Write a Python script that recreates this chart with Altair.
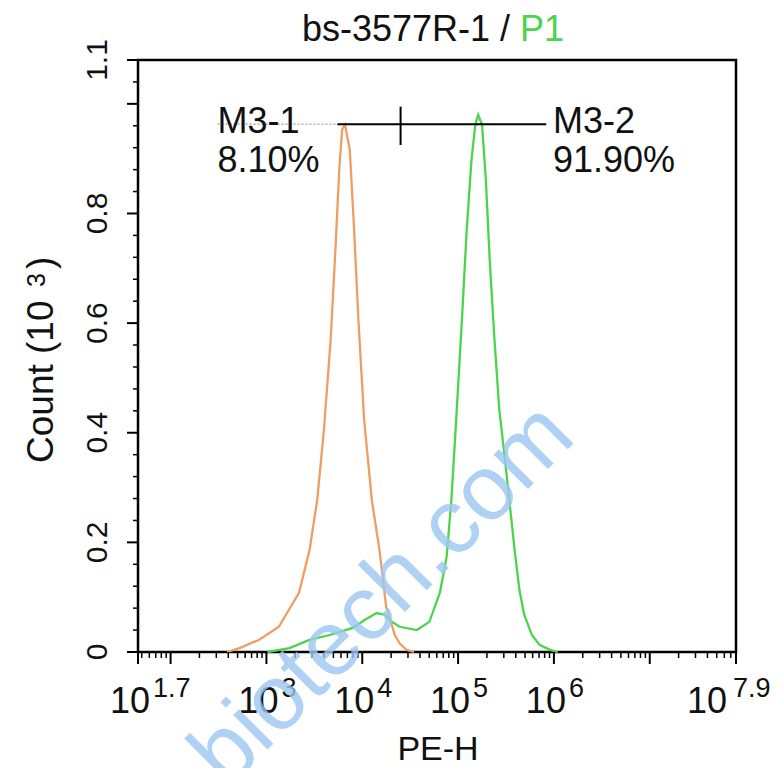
import math
import altair as alt
import pandas as pd

FONT = "Liberation Sans"
ORANGE = "#EE9E62"
GREEN = "#4CD44C"
INK = "#111111"

# ---- axis ranges (log10 of PE-H, count in 10^3) ----
X_LO, X_HI = 1.66, 7.9
Y_MAX = 1.08

# ---- control histogram (orange): log10(PE-H) and count (10^3) ----
ctrl_log = [2.59, 2.72, 2.92, 3.13, 3.34, 3.45, 3.53, 3.60, 3.67, 3.72, 3.76, 3.79,
            3.82, 3.87, 3.91, 3.96, 4.02, 4.10, 4.18, 4.25, 4.34, 4.39, 4.46, 4.54]
ctrl_cnt = [0.0, 0.007, 0.022, 0.046, 0.108, 0.186, 0.277, 0.405, 0.569, 0.734, 0.880, 0.953,
            0.962, 0.916, 0.788, 0.606, 0.423, 0.277, 0.186, 0.082, 0.031, 0.016, 0.004, 0.0]

# ---- antibody-stained histogram (green) ----
samp_log = [3.01, 3.24, 3.45, 3.66, 3.90, 4.02, 4.15, 4.23, 4.31, 4.39, 4.57, 4.70,
            4.81, 4.88, 4.93, 4.98, 5.04, 5.09, 5.14, 5.18, 5.21, 5.25, 5.29, 5.33,
            5.38, 5.43, 5.49, 5.54, 5.59, 5.64, 5.69, 5.77, 5.85, 5.96, 6.04]
samp_cnt = [0.0, 0.007, 0.022, 0.031, 0.044, 0.058, 0.071, 0.068, 0.055, 0.046, 0.040, 0.055,
            0.108, 0.173, 0.277, 0.423, 0.606, 0.770, 0.898, 0.962, 0.980, 0.962, 0.861, 0.715,
            0.569, 0.442, 0.350, 0.268, 0.186, 0.113, 0.068, 0.031, 0.013, 0.004, 0.0]

# ---- gate M3 ----
gate_lo, gate_mid, gate_hi = 3.74, 4.40, 5.92
gate_level = 0.963
divider_lo, divider_hi = 0.925, 0.995
leader_lo = 2.49
gate_names = ["M3-1", "M3-2"]
gate_pcts = ["8.10%", "91.90%"]
gate_label_log = [2.49, 5.99]
name_level = 0.947
pct_level = 0.876

# ---- ticks / labels ----
major_x_exp = [X_LO, 2, 3, 4, 5, 6, 7, X_HI]
label_x_exp = [X_LO, 3, 4, 5, 6]
label_x_txt = ["1.7", "3", "4", "5", "6"]
last_label_exp = [X_HI]
last_label_txt = ["7.9"]
y_major = [0, 0.2, 0.4, 0.6, 0.8, 1.0, Y_MAX]
y_label_val = [0, 0.2, 0.4, 0.6, 0.8, Y_MAX]
y_label_txt = ["0", "0.2", "0.4", "0.6", "0.8", "1.1"]

title_main = "bs-3577R-1 /"
title_gate = "P1"
x_title = "PE-H"
y_title_main = "Count  (10"
y_title_exp = "3"
y_title_close = ")"
watermark = "biotech.com"

minor_x = [k * 10 ** d for d in range(1, 8) for k in range(2, 10)
           if X_LO < math.log10(k * 10 ** d) < X_HI]
minor_y = [round(0.04 * i, 2) for i in range(1, 27) if i % 5 != 0]

xs = alt.Scale(type="log", domain=[10 ** X_LO, 10 ** X_HI], nice=False)
ys = alt.Scale(domain=[0, Y_MAX], nice=False, zero=True)


def X(field):
    return alt.X(field, type="quantitative", scale=xs, axis=None)


def Y(field):
    return alt.Y(field, type="quantitative", scale=ys, axis=None)


hist = pd.concat([
    pd.DataFrame({"pe": [10 ** v for v in ctrl_log], "count": ctrl_cnt, "series": "control"}),
    pd.DataFrame({"pe": [10 ** v for v in samp_log], "count": samp_cnt, "series": "sample"}),
])

lines = alt.Chart(hist).mark_line(strokeWidth=2.3).encode(
    x=X("pe"), y=Y("count"),
    color=alt.Color("series:N", scale=alt.Scale(domain=["control", "sample"],
                                                range=[ORANGE, GREEN]), legend=None),
)

# ticks
major_x_rules = alt.Chart(pd.DataFrame({"v": [10 ** e for e in major_x_exp]})).mark_rule(
    color="black", strokeWidth=2).encode(x=X("v"), y=alt.value(592), y2=alt.value(604))
minor_x_rules = alt.Chart(pd.DataFrame({"v": minor_x})).mark_rule(
    color="black", strokeWidth=1.5).encode(x=X("v"), y=alt.value(592), y2=alt.value(598))
major_y_rules = alt.Chart(pd.DataFrame({"v": y_major})).mark_rule(
    color="black", strokeWidth=2).encode(y=Y("v"), x=alt.value(-11), x2=alt.value(0))
minor_y_rules = alt.Chart(pd.DataFrame({"v": minor_y})).mark_rule(
    color="black", strokeWidth=1.5).encode(y=Y("v"), x=alt.value(-5), x2=alt.value(0))

# x tick labels: "10" with a raised exponent
lab_df = pd.DataFrame({"pe": [10 ** v for v in label_x_exp], "txt": label_x_txt})
tens = alt.Chart(lab_df).mark_text(text="10", align="right", baseline="alphabetic", dx=12,
                                   font=FONT, fontSize=36, color=INK).encode(
    x=X("pe"), y=alt.value(653))
exps = alt.Chart(lab_df).mark_text(align="left", baseline="alphabetic", dx=15,
                                   font=FONT, fontSize=27, color=INK).encode(
    x=X("pe"), y=alt.value(637), text="txt:N")
last_df = pd.DataFrame({"pe": [10 ** v for v in last_label_exp], "txt": last_label_txt})
tens_last = alt.Chart(last_df).mark_text(text="10", align="right", baseline="alphabetic", dx=-9,
                                         font=FONT, fontSize=36, color=INK).encode(
    x=X("pe"), y=alt.value(653))
exps_last = alt.Chart(last_df).mark_text(align="left", baseline="alphabetic", dx=-3,
                                         font=FONT, fontSize=27, color=INK).encode(
    x=X("pe"), y=alt.value(637), text="txt:N")

# y tick labels (rotated)
ylab_df = pd.DataFrame({"v": y_label_val, "txt": y_label_txt})
ylabels = alt.Chart(ylab_df).mark_text(angle=270, align="center", baseline="alphabetic",
                                       font=FONT, fontSize=30, color=INK).encode(
    y=Y("v"), x=alt.value(-31), text="txt:N")

# axis titles
t_df = pd.DataFrame({"a": [title_main], "b": [title_gate], "w": [watermark],
                     "xt": [x_title], "y1": [y_title_main], "y2": [y_title_exp],
                     "y3": [y_title_close]})
xtitle = alt.Chart(t_df).mark_text(align="center", baseline="alphabetic", font=FONT,
                                   fontSize=34, color=INK).encode(
    x=alt.value(300), y=alt.value(700), text="xt:N")
ytitle1 = alt.Chart(t_df).mark_text(angle=270, align="left", baseline="alphabetic", font=FONT,
                                    fontSize=37, color=INK).encode(
    x=alt.value(-85), y=alt.value(403), text="y1:N")
ytitle2 = alt.Chart(t_df).mark_text(angle=270, align="left", baseline="alphabetic", font=FONT,
                                    fontSize=25, color=INK).encode(
    x=alt.value(-93), y=alt.value(227), text="y2:N")
ytitle3 = alt.Chart(t_df).mark_text(angle=270, align="left", baseline="alphabetic", font=FONT,
                                    fontSize=37, color=INK).encode(
    x=alt.value(-85), y=alt.value(209), text="y3:N")

# gate marker
gate_df = pd.DataFrame({"lo": [10 ** gate_lo], "hi": [10 ** gate_hi], "mid": [10 ** gate_mid],
                        "lead": [10 ** leader_lo], "level": [gate_level],
                        "dlo": [divider_lo], "dhi": [divider_hi]})
leader = alt.Chart(gate_df).mark_rule(color="#9a9a9a", strokeWidth=1.2, strokeDash=[2, 2]).encode(
    x=X("lead"), x2="lo:Q", y=Y("level"))
gate_line = alt.Chart(gate_df).mark_rule(color="black", strokeWidth=2).encode(
    x=X("lo"), x2="hi:Q", y=Y("level"))
divider = alt.Chart(gate_df).mark_rule(color="black", strokeWidth=2).encode(
    x=X("mid"), y=Y("dlo"), y2="dhi:Q")

glab_df = pd.DataFrame({"pe": [10 ** v for v in gate_label_log], "name": gate_names,
                        "pct": gate_pcts, "nl": [name_level] * 2, "pl": [pct_level] * 2})
gnames = alt.Chart(glab_df).mark_text(align="left", baseline="alphabetic", font=FONT,
                                      fontSize=36, color=INK).encode(
    x=X("pe"), y=Y("nl"), text="name:N")
gpcts = alt.Chart(glab_df).mark_text(align="left", baseline="alphabetic", font=FONT,
                                     fontSize=36, color=INK).encode(
    x=X("pe"), y=Y("pl"), text="pct:N")

# title: black part + green population name
title_a = alt.Chart(t_df).mark_text(align="right", baseline="alphabetic", font=FONT,
                                    fontSize=36, color=INK).encode(
    x=alt.value(372), y=alt.value(-19), text="a:N")
title_b = alt.Chart(t_df).mark_text(align="left", baseline="alphabetic", font=FONT,
                                    fontSize=36, color=GREEN).encode(
    x=alt.value(382), y=alt.value(-19), text="b:N")

# watermark
wm = alt.Chart(t_df).mark_text(align="left", baseline="alphabetic", font=FONT, angle=315,
                               fontSize=92, color="#9CC7F2", opacity=0.8).encode(
    x=alt.value(89), y=alt.value(730), text="w:N")

chart = alt.layer(
    lines, major_x_rules, minor_x_rules, major_y_rules, minor_y_rules,
    tens, exps, tens_last, exps_last, ylabels, xtitle, ytitle1, ytitle2, ytitle3,
    leader, gate_line, divider, gnames, gpcts, title_a, title_b, wm
).properties(
    width=598, height=592,
    autosize=alt.AutoSizeParams(type="none"),
    padding={"left": 130, "top": 52, "right": 36, "bottom": 116},
).configure(font=FONT).configure_view(stroke="black", strokeWidth=2.5)

chart.save("out.html", embed_options={"renderer": "svg", "actions": False})
